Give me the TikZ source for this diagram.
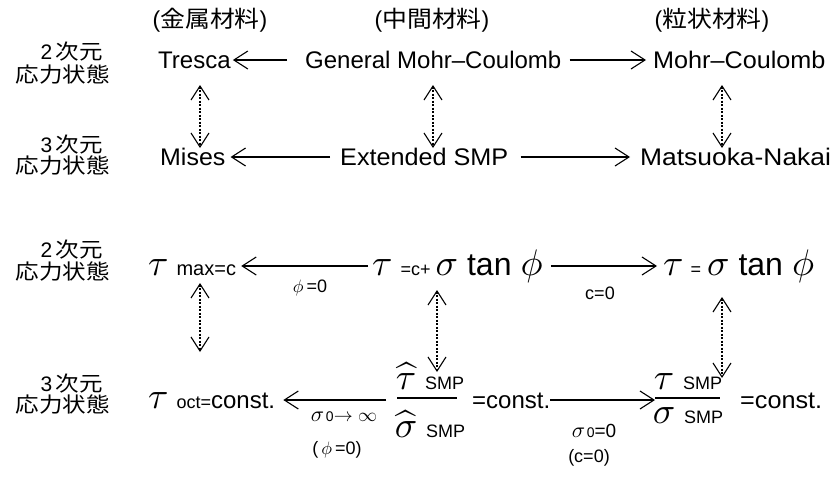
\documentclass[tikz,border=0pt]{standalone}
\usepackage{fontspec}
\setmainfont{Liberation Sans}
\newfontfamily\jpfont{Noto Sans CJK JP}
\usetikzlibrary{arrows.meta}

\newcommand{\fs}[1]{\fontsize{#1}{#1}\selectfont}
\newcommand{\jpw}[1]{\scalebox{1.12}[1]{\jpfont #1}}
\newcommand{\jph}[1]{\scalebox{1.08}[1]{\jpfont #1}}
\newcommand{\xw}[2]{\scalebox{#1}[1]{#2}}
% math symbols at 10pt, magnified
\newcommand{\mth}[2]{\scalebox{#1}{\fs{10}$#2$}}
\newcommand{\gk}[1]{\mth{3.7}{#1}}
\newcommand{\gap}[1]{\hspace*{#1pt}}

\tikzset{
  lbl/.style={inner sep=0pt, font=\fs{24}},
  side/.style={inner sep=0pt, font=\fs{21}},
  head/.style={inner sep=0pt, font=\fs{23}},
  small/.style={inner sep=0pt, font=\fs{18}},
  expr/.style={inner sep=0pt, anchor=base west},
  barb/.tip={Straight Barb[length=14pt,width=18pt,line width=1.1pt]},
  flow/.style={-barb, line width=1.1pt},
  link/.style={barb-barb, line width=1.1pt, dash pattern=on 2pt off 1.5pt},
  fbar/.style={line width=1.1pt},
}

\begin{document}
\begin{tikzpicture}[x=1pt,y=-1pt]
\useasboundingbox (0,0) rectangle (834,479);
\fill[white] (0,0) rectangle (834,479);

% column headings
\node[head] (h1) at (210,20) {(\jph{金属材料})};
\node[head] (h2) at (432,20) {(\jph{中間材料})};
\node[head] (h3) at (712,20) {(\jph{粒状材料})};

% row headings
\node[side,anchor=east] (r1a) at (103,52) {2\,\jpw{次元}};
\node[side,anchor=east] (r1b) at (110,75) {\jpw{応力状態}};
\node[side,anchor=east] (r2a) at (103,145) {3\,\jpw{次元}};
\node[side,anchor=east] (r2b) at (110,166) {\jpw{応力状態}};
\node[side,anchor=east] (r3a) at (103,250) {2\,\jpw{次元}};
\node[side,anchor=east] (r3b) at (110,272) {\jpw{応力状態}};
\node[side,anchor=east] (r4a) at (103,384) {3\,\jpw{次元}};
\node[side,anchor=east] (r4b) at (110,405) {\jpw{応力状態}};

% names of the criteria
\node[lbl,anchor=west] (tr) at (158,60) {Tresca};
\node[lbl,anchor=west] (gmc) at (305,60) {General Mohr--Coulomb};
\node[lbl,anchor=west] (mc) at (653,60) {\xw{1.05}{Mohr--Coulomb}};
\node[lbl,anchor=west] (mi) at (160,157) {\xw{1.04}{Mises}};
\node[lbl,anchor=west] (es) at (340,157) {\xw{1.05}{Extended SMP}};
\node[lbl,anchor=west] (mn) at (640,157) {\xw{1.1}{Matsuoka-Nakai}};

\draw[flow] ([xshift=-18pt]gmc.west) -- ([xshift=2pt]tr.east);
\draw[flow] ([xshift=8pt]gmc.east) -- ([xshift=-7pt]mc.west);
\draw[flow] ([xshift=-10pt]es.west) -- ([xshift=5pt]mi.east);
\draw[flow] ([xshift=12pt]es.east) -- ([xshift=-10pt]mn.west);

\coordinate (v1t) at (200,85);  \coordinate (v1b) at (200,148);
\coordinate (v2t) at (433,85);  \coordinate (v2b) at (433,148);
\coordinate (v3t) at (722,85);  \coordinate (v3b) at (722,148);
\draw[link] (v1t) -- (v1b);
\draw[link] (v2t) -- (v2b);
\draw[link] (v3t) -- (v3b);

% plane stress forms
\node[expr] (tm) at (148,275)
  {\gk{\tau}\gap{8}{\fs{20}max=c}};
\node[expr] (tg) at (372,275)
  {\gk{\tau}\gap{8}{\fs{18}=c+}\gap{5}\gk{\sigma}\gap{9}{\fs{32}tan}\gap{9}\gk{\phi}};
\node[expr] (tf) at (663,275)
  {\gk{\tau}\gap{7}{\fs{18}=}\gap{6}\gk{\sigma}\gap{9}{\fs{32}tan}\gap{9}\gk{\phi}};

\draw[flow] ([xshift=-4pt]tg.west |- 0,266) -- ([xshift=5pt]tm.east |- 0,266);
\draw[flow] ([xshift=8pt]tg.east |- 0,266) -- ([xshift=-6pt]tf.west |- 0,266);
\node[small] (l1) at (310,288) {\mth{1.8}{\phi}\,=0};
\node[small] (l2) at (600,293) {c=0};

\coordinate (v4t) at (200,283); \coordinate (v4b) at (200,352);
\coordinate (v5t) at (437,290); \coordinate (v5b) at (437,372);
\coordinate (v6t) at (722,297); \coordinate (v6b) at (722,378);
\draw[link] (v4t) -- (v4b);
\draw[link] (v5t) -- (v5b);
\draw[link] (v6t) -- (v6b);

% general stress forms
\node[expr] (to) at (148,408)
  {\gk{\tau}\gap{8}{\fs{18}oct=}{\fs{24}const.}};

\node[inner sep=0pt] (n1) at (430,376) {\gk{\widehat{\tau}}\gap{9}{\fs{18}SMP}};
\node[inner sep=0pt] (d1) at (430,424) {\gk{\widehat{\sigma}}\gap{9}{\fs{18}SMP}};
\coordinate (b1l) at (397,398); \coordinate (b1r) at (457,398);
\draw[fbar] (b1l) -- (b1r);
\node[expr] (c1) at (472,408) {\fs{24}=const.};

\node[inner sep=0pt] (n2) at (688,382) {\gk{\tau}\gap{9}{\fs{18}SMP}};
\node[inner sep=0pt] (d2) at (688,416) {\gk{\sigma}\gap{9}{\fs{18}SMP}};
\coordinate (b2l) at (655,398); \coordinate (b2r) at (720,398);
\draw[fbar] (b2l) -- (b2r);
\node[expr] (c2) at (740,408) {\xw{1.05}{\fs{24}=const.}};

\coordinate (a7s) at (386,400);
\draw[flow] (a7s) -- ([xshift=8pt]to.east |- a7s);
\coordinate (a8s) at (550,400);
\draw[flow] (a8s) -- (b2l |- a8s);

\node[inner sep=0pt] (l3) at (344,417) {\mth{2.2}{\sigma}\,{\fs{14}0}\mth{1.9}{\rightarrow\infty}};
\node[small] (l4) at (337,450) {(\,\mth{1.8}{\phi}\,=0)};
\node[inner sep=0pt] (l5) at (594,431) {\mth{2.2}{\sigma}\,{\fs{14}0}{\fs{19}=0}};
\node[small] (l6) at (589,458) {(c=0)};
\end{tikzpicture}
\end{document}
